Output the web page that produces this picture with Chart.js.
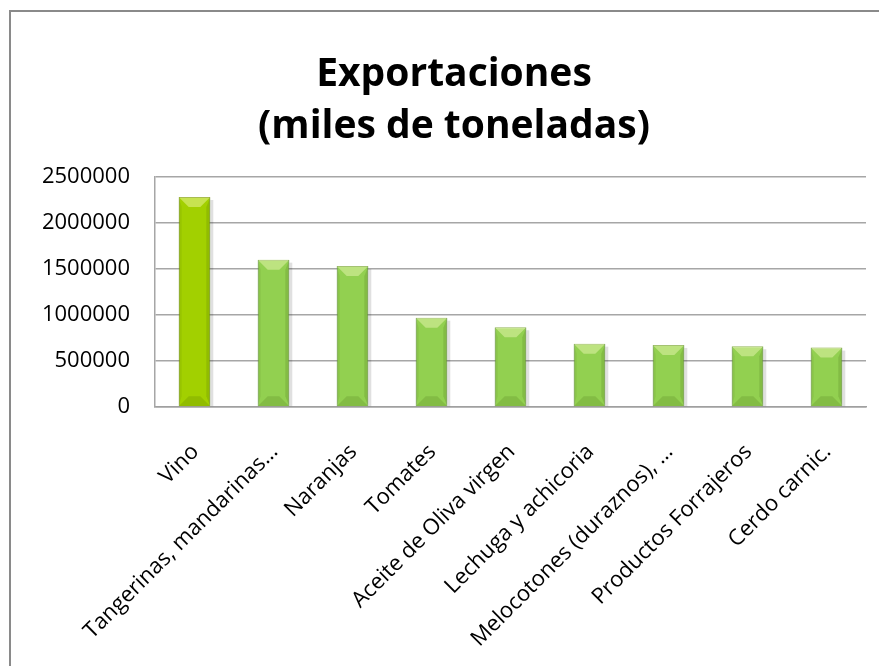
<!DOCTYPE html>
<html lang="es">
<head>
  <meta charset="UTF-8" />
  <title>Exportaciones (miles de toneladas)</title>
  <style>
    * { box-sizing: border-box; margin: 0; padding: 0; }
    body { background: #fff; width: 879px; height: 666px; overflow: hidden; position: relative; }
    .marco {
      position: absolute; left: 9px; top: 10px;
      width: 1000px; height: 1000px;
      border: 2px solid #8a8a8a;
    }
    .grafico { position: absolute; left: 0; top: 0; width: 879px; height: 666px; }
  </style>
</head>
<body>
  <div class="marco"></div>
  <div class="grafico"><canvas id="exportChart" width="879" height="666"></canvas></div>

  <script src="https://cdn.jsdelivr.net/npm/chart.js"></script>
  <script>
    const productos = [
      'Vino',
      'Tangerinas, mandarinas…',
      'Naranjas',
      'Tomates',
      'Aceite de Oliva virgen',
      'Lechuga y achicoria',
      'Melocotones (duraznos), …',
      'Productos Forrajeros',
      'Cerdo carnic.'
    ];
    const toneladas = [2280000, 1600000, 1530000, 970000, 866000, 688000, 674000, 660000, 645000];
    const colores = ['#a2d000', '#92d050', '#92d050', '#92d050', '#92d050', '#92d050', '#92d050', '#92d050', '#92d050'];
    const bordes = ['#6f8f00', '#68993a', '#68993a', '#68993a', '#68993a', '#68993a', '#68993a', '#68993a', '#68993a'];

    // biselado sencillo encima de cada barra
    const bisel = {
      id: 'bisel',
      afterDatasetsDraw(chart) {
        const c = chart.ctx;
        chart.getDatasetMeta(0).data.forEach((bar) => {
          const l = bar.x - bar.width / 2, r = bar.x + bar.width / 2;
          const t = bar.y, b = bar.base, k = 10;
          c.save();
          // sombra lado derecho
          c.fillStyle = 'rgba(0,0,0,0.12)';
          c.fillRect(r, t + 3, 3, b - t - 3);
          // cara superior clara
          c.fillStyle = 'rgba(255,255,200,0.4)';
          c.beginPath();
          c.moveTo(l, t); c.lineTo(r, t); c.lineTo(r - k, t + k); c.lineTo(l + k, t + k);
          c.closePath(); c.fill();
          // cara inferior oscura
          c.fillStyle = 'rgba(40,70,0,0.14)';
          c.beginPath();
          c.moveTo(l, b); c.lineTo(r, b); c.lineTo(r - k, b - k); c.lineTo(l + k, b - k);
          c.closePath(); c.fill();
          // laterales
          c.fillStyle = 'rgba(40,70,0,0.14)';
          c.beginPath();
          c.moveTo(r, t); c.lineTo(r - 4, t + k); c.lineTo(r - 4, b - k); c.lineTo(r, b);
          c.closePath(); c.fill();
          c.fillStyle = 'rgba(40,70,0,0.08)';
          c.beginPath();
          c.moveTo(l, t); c.lineTo(l + 3, t + k); c.lineTo(l + 3, b - k); c.lineTo(l, b);
          c.closePath(); c.fill();
          c.restore();
        });
      }
    };

    const fuente = "'Open Sans', 'DejaVu Sans', sans-serif";

    new Chart(document.getElementById('exportChart'), {
      type: 'bar',
      data: {
        labels: productos,
        datasets: [{
          data: toneladas,
          backgroundColor: colores,
          borderColor: bordes,
          borderWidth: 1,
          barPercentage: 0.4,
          categoryPercentage: 1
        }]
      },
      options: {
        responsive: false,
        animation: false,
        layout: { padding: { left: 42, right: 13, top: 0, bottom: 0 } },
        plugins: {
          legend: { display: false },
          tooltip: { enabled: false },
          title: {
            display: true,
            text: ['Exportaciones', '(miles de toneladas)'],
            color: '#000',
            font: { family: fuente, size: 39, weight: 'bold', lineHeight: 1.33 },
            padding: { top: 49, bottom: 24 }
          }
        },
        scales: {
          x: {
            grid: { display: false },
            border: { color: '#a0a0a0', width: 1.5 },
            ticks: {
              color: '#000',
              autoSkip: false,
              maxRotation: 45,
              minRotation: 45,
              padding: 24,
              labelOffset: 1,
              font: { family: fuente, size: 22 }
            },
            afterFit(scale) { scale.height = 259; }
          },
          y: {
            min: 0,
            max: 2500000,
            ticks: {
              stepSize: 500000,
              color: '#000',
              padding: 25,
              font: { family: fuente, size: 22 },
              callback: (v) => String(v)
            },
            grid: { color: '#a6a6a6', lineWidth: 1.5, drawTicks: false },
            border: { color: '#a6a6a6', width: 1.5 },
            afterFit(scale) { scale.width = 113; }
          }
        }
      },
      plugins: [bisel]
    });
  </script>
</body>
</html>
